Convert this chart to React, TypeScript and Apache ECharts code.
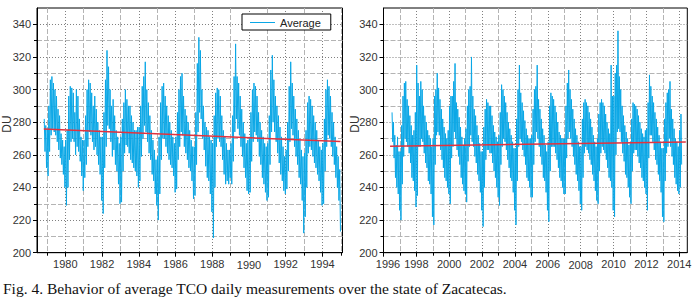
import React, { useEffect, useRef } from "react";
import * as echarts from "echarts";

// ---------- data (monthly high / low of the daily values) ----------
// Left panel: starts November 1978 (month index 10)
const leftStartYear = 1978;
const leftStartMonth = 10;
const leftHigh = [
  282, 278,
  276, 290, 306, 308, 304, 300, 296, 288, 284, 273, 269, 265, // 1979
  269, 275, 296, 302, 301, 298, 286, 300, 296, 282, 271, 269, // 1980
  269, 284, 300, 306, 304, 298, 290, 296, 288, 280, 275, 271, // 1981
  271, 286, 306, 324, 314, 300, 290, 294, 284, 275, 271, 267, // 1982
  271, 282, 292, 300, 294, 290, 290, 284, 280, 275, 275, 277, // 1983
  277, 290, 302, 308, 317, 300, 292, 284, 275, 269, 263, 257, // 1984
  259, 271, 292, 302, 304, 296, 290, 284, 280, 275, 271, 267, // 1985
  271, 286, 300, 308, 310, 296, 288, 284, 280, 275, 269, 265, // 1986
  265, 286, 316, 332, 324, 300, 290, 280, 277, 275, 271, 269, // 1987
  267, 284, 298, 301, 300, 296, 284, 275, 271, 267, 263, 263, // 1988
  267, 284, 308, 328, 308, 304, 296, 288, 280, 273, 267, 269, // 1989
  271, 286, 300, 304, 302, 296, 286, 280, 275, 271, 267, 265, // 1990
  267, 284, 312, 321, 306, 296, 290, 284, 277, 271, 265, 259, // 1991
  263, 280, 302, 317, 304, 296, 288, 282, 275, 269, 263, 259, // 1992
  261, 275, 292, 296, 294, 290, 284, 280, 275, 269, 265, 263, // 1993
  267, 282, 300, 306, 302, 296, 286, 280, 271, 265, 259, 251, // 1994
];
const leftLow = [
  262, 252,
  247, 262, 272, 276, 274, 272, 268, 263, 258, 254, 248, 240, // 1979
  229, 240, 257, 268, 270, 268, 260, 265, 262, 256, 247, 238, // 1980
  246, 254, 265, 274, 272, 268, 263, 265, 260, 254, 248, 232, // 1981
  224, 252, 265, 278, 276, 268, 259, 263, 254, 250, 242, 230, // 1982
  231, 250, 261, 266, 265, 261, 257, 255, 252, 250, 247, 240, // 1983
  244, 259, 270, 278, 274, 268, 261, 257, 248, 244, 236, 229, // 1984
  220, 236, 257, 270, 270, 265, 261, 257, 254, 252, 247, 237, // 1985
  239, 257, 265, 274, 272, 265, 261, 257, 252, 250, 244, 233, // 1986
  235, 254, 274, 286, 282, 270, 263, 253, 246, 244, 236, 225, // 1987
  209, 240, 265, 270, 268, 265, 257, 248, 242, 244, 242, 246, // 1988
  242, 256, 274, 282, 276, 272, 265, 259, 252, 246, 238, 236, // 1989
  237, 256, 268, 274, 272, 268, 259, 254, 246, 242, 237, 232, // 1990
  234, 254, 274, 280, 274, 268, 261, 255, 248, 244, 238, 236, // 1991
  239, 250, 268, 276, 272, 265, 259, 254, 246, 242, 232, 212, // 1992
  222, 240, 261, 265, 263, 259, 255, 252, 248, 244, 237, 229, // 1993
  230, 250, 265, 272, 270, 265, 259, 254, 246, 240, 232, 213, // 1994
];

// Right panel: starts July 1996 (month index 6)
const rightStartYear = 1996;
const rightStartMonth = 6;
const rightHigh = [
  286, 280, 272, 266, 271, 262,
  262, 278, 296, 304, 305, 294, 290, 284, 278, 272, 275, 286, // 1997
  315, 304, 296, 305, 300, 290, 284, 280, 275, 272, 270, 265, // 1998
  270, 296, 300, 310, 301, 294, 288, 282, 277, 273, 270, 275, // 1999
  290, 296, 296, 305, 316, 292, 288, 283, 277, 271, 266, 270, // 2000
  276, 290, 300, 302, 320, 296, 288, 284, 278, 272, 267, 262, // 2001
  262, 277, 288, 294, 292, 290, 290, 284, 278, 274, 271, 268, // 2002
  272, 286, 303, 300, 296, 292, 286, 280, 276, 272, 268, 264, // 2003
  264, 282, 300, 315, 298, 292, 287, 281, 276, 272, 270, 270, // 2004
  272, 288, 300, 302, 315, 294, 288, 282, 276, 272, 266, 262, // 2005
  268, 290, 298, 296, 294, 290, 286, 280, 274, 272, 270, 270, // 2006
  270, 290, 304, 312, 300, 294, 288, 282, 276, 272, 268, 265, // 2007
  265, 282, 292, 294, 292, 290, 286, 282, 277, 272, 268, 265, // 2008
  270, 285, 292, 294, 292, 290, 285, 280, 276, 273, 315, 296, // 2009
  296, 310, 315, 336, 308, 300, 290, 284, 278, 274, 270, 266, // 2010
  267, 282, 292, 291, 290, 288, 284, 280, 276, 273, 271, 275, // 2011
  276, 292, 309, 302, 296, 292, 286, 282, 277, 272, 268, 264, // 2012
  264, 282, 292, 298, 300, 305, 288, 282, 276, 270, 268, 265, // 2013
  275, 285, // 2014
];
const rightLow = [
  268, 258, 246, 240, 236, 226,
  220, 242, 259, 270, 268, 265, 261, 255, 246, 244, 238, 228, // 1997
  235, 265, 265, 270, 268, 261, 255, 252, 244, 242, 236, 222, // 1998
  217, 254, 272, 274, 272, 263, 257, 252, 246, 244, 240, 236, // 1999
  230, 258, 265, 274, 270, 263, 259, 254, 246, 242, 238, 236, // 2000
  231, 256, 265, 272, 268, 265, 259, 255, 248, 244, 237, 226, // 2001
  216, 240, 257, 263, 263, 261, 261, 255, 250, 246, 240, 234, // 2002
  229, 254, 265, 270, 268, 263, 257, 252, 246, 244, 237, 226, // 2003
  217, 244, 265, 270, 268, 263, 259, 254, 246, 244, 240, 234, // 2004
  234, 254, 268, 274, 270, 265, 259, 254, 246, 244, 237, 226, // 2005
  219, 250, 265, 265, 265, 261, 257, 252, 246, 244, 240, 236, // 2006
  236, 258, 270, 274, 270, 265, 259, 254, 248, 244, 238, 230, // 2007
  226, 246, 261, 265, 263, 261, 257, 254, 248, 244, 238, 232, // 2008
  230, 250, 261, 265, 263, 261, 257, 252, 246, 244, 240, 226, // 2009
  222, 260, 274, 276, 274, 268, 261, 256, 248, 246, 240, 234, // 2010
  230, 250, 261, 263, 263, 259, 255, 252, 246, 244, 240, 236, // 2011
  226, 258, 272, 272, 268, 263, 257, 254, 248, 244, 237, 222, // 2012
  219, 244, 261, 265, 270, 265, 259, 254, 246, 242, 238, 236, // 2013
  240, 254, // 2014
];

// Linear trends (red lines): [year, DU]
const leftTrend = [
  [1978.83, 275.8],
  [1994.98, 268.1],
];
const rightTrend = [
  [1996.4, 265.3],
  [2014.4, 267.8],
];

// Tick values
const leftEvenYears = [1980, 1982, 1984, 1986, 1988, 1990, 1992, 1994];
const leftOddYears = [1979, 1981, 1983, 1985, 1987, 1989, 1991, 1993, 1995];
const rightEvenYears = [1996, 1998, 2000, 2002, 2004, 2006, 2008, 2010, 2012, 2014];
const rightOddYears = [1997, 1999, 2001, 2003, 2005, 2007, 2009, 2011, 2013];
const duMajor = [200, 220, 240, 260, 280, 300, 320, 340];
const duMinor = [210, 230, 250, 270, 290, 310, 330];

const yAxisTitle = "DU";
const seriesName = "Average";
const caption =
  "Fig. 4. Behavior of average TCO daily measurements over the state of Zacatecas.";

// ---------- helpers ----------
function buildSeries(startYear: number, startMonth: number, hi: number[], lo: number[]) {
  const pts: number[][] = [];
  for (let i = 0; i < hi.length; i++) {
    const m = startMonth + i;
    const y = startYear + Math.floor(m / 12);
    const mm = m % 12;
    pts.push([y + (mm + 0.25) / 12, hi[i]]);
    pts.push([y + (mm + 0.75) / 12, lo[i]]);
  }
  return pts;
}

const FONT = "'Liberation Sans', Arial, sans-serif";
const LABEL_COLOR = "#333";
const MAJOR_GRID = { color: "#808080", type: [1, 2] as number[], width: 1 };
const MINOR_GRID = { color: "#b4b4b4", type: [5, 2] as number[], width: 1 };

function xAxesFor(gridIndex: number, min: number, max: number, even: number[], odd: number[], special: Record<number, string>) {
  return [
    {
      type: "value",
      gridIndex,
      min,
      max,
      position: "bottom",
      axisLine: { show: true, onZero: false, lineStyle: { color: "#000", width: 1 } },
      axisTick: { show: true, customValues: even, length: 4, lineStyle: { color: "#000" } },
      axisLabel: {
        customValues: even,
        margin: 6,
        fontSize: 11,
        color: LABEL_COLOR,
        fontFamily: FONT,
        formatter: (v: number) => (special[v] ? `{${special[v]}|${v}}` : String(v)),
        rich: {
          low: { fontSize: 11, color: LABEL_COLOR, fontFamily: FONT, padding: [1, 0, 0, 0] },
          shift: { fontSize: 11, color: LABEL_COLOR, fontFamily: FONT, padding: [0, 0, 0, 9] },
        },
      },
      splitLine: { show: true, lineStyle: MAJOR_GRID },
    },
    {
      type: "value",
      gridIndex,
      min,
      max,
      position: "bottom",
      axisLine: { show: false, onZero: false },
      axisTick: { show: true, customValues: odd, length: 3, lineStyle: { color: "#000" } },
      axisLabel: { show: false },
      splitLine: { show: true, lineStyle: MINOR_GRID },
    },
  ];
}

function yAxesFor(gridIndex: number) {
  return [
    {
      type: "value",
      gridIndex,
      min: 200,
      max: 350,
      position: "left",
      axisLine: { show: true, onZero: false, lineStyle: { color: "#000", width: 1 } },
      axisTick: { show: true, customValues: duMajor, length: 4, lineStyle: { color: "#000" } },
      axisLabel: { customValues: duMajor, margin: 6, fontSize: 11, color: LABEL_COLOR, fontFamily: FONT },
      splitLine: { show: true, lineStyle: MAJOR_GRID },
    },
    {
      type: "value",
      gridIndex,
      min: 200,
      max: 350,
      position: "left",
      axisLine: { show: false, onZero: false },
      axisTick: { show: true, customValues: duMinor, length: 3, lineStyle: { color: "#000" } },
      axisLabel: { show: false },
      splitLine: { show: true, lineStyle: MINOR_GRID },
    },
  ];
}

export default function App() {
  const ref = useRef<HTMLDivElement>(null);

  useEffect(() => {
    if (!ref.current) return;
    const chart = echarts.init(ref.current, undefined, { renderer: "svg" });

    const lineColor = "#0aa7e6";
    const trendColor = "#e2323e";

    const option: any = {
      animation: false,
      backgroundColor: "#fff",
      textStyle: { fontFamily: FONT },
      grid: [
        { left: 37, top: 8, width: 305.5, height: 244.7, show: true, borderColor: "#000", borderWidth: 1, backgroundColor: "transparent", outerBoundsMode: "none" },
        { left: 383.5, top: 8, width: 303.8, height: 244.7, show: true, borderColor: "#000", borderWidth: 1, backgroundColor: "transparent", outerBoundsMode: "none" },
      ],
      xAxis: [
        ...xAxesFor(0, 1978.46, 1995.09, leftEvenYears, leftOddYears, { 1990: "low" }),
        ...xAxesFor(1, 1996.0, 2014.49, rightEvenYears, rightOddYears, { 1996: "shift", 2008: "low" }),
      ],
      yAxis: [...yAxesFor(0), ...yAxesFor(1)],
      legend: {
        data: [seriesName],
        left: 242,
        top: 14,
        padding: [3, 10, 2, 8],
        icon: "rect",
        itemWidth: 25,
        itemHeight: 1,
        borderColor: "#000",
        borderWidth: 1,
        borderRadius: 0,
        backgroundColor: "#fff",
        selectedMode: false,
        textStyle: { fontSize: 11, color: "#222", fontFamily: FONT },
      },
      series: [
        {
          name: seriesName,
          type: "line",
          xAxisIndex: 0,
          yAxisIndex: 0,
          data: buildSeries(leftStartYear, leftStartMonth, leftHigh, leftLow),
          symbol: "none",
          lineStyle: { color: lineColor, width: 1 },
          itemStyle: { color: lineColor },
          z: 3,
        },
        {
          name: seriesName,
          type: "line",
          xAxisIndex: 2,
          yAxisIndex: 2,
          data: buildSeries(rightStartYear, rightStartMonth, rightHigh, rightLow),
          symbol: "none",
          lineStyle: { color: lineColor, width: 1 },
          itemStyle: { color: lineColor },
          z: 3,
        },
        {
          name: "Trend",
          type: "line",
          xAxisIndex: 0,
          yAxisIndex: 0,
          data: leftTrend,
          symbol: "none",
          lineStyle: { color: trendColor, width: 1.5 },
          z: 4,
        },
        {
          name: "Trend",
          type: "line",
          xAxisIndex: 2,
          yAxisIndex: 2,
          data: rightTrend,
          symbol: "none",
          lineStyle: { color: trendColor, width: 1.5 },
          z: 4,
        },
      ],
      graphic: [
        {
          type: "text",
          x: 7,
          y: 124,
          rotation: Math.PI / 2,
          style: { text: yAxisTitle, font: `12px ${FONT}`, fill: LABEL_COLOR, align: "center", verticalAlign: "middle" },
        },
        {
          type: "text",
          x: 355,
          y: 124,
          rotation: Math.PI / 2,
          style: { text: yAxisTitle, font: `12px ${FONT}`, fill: LABEL_COLOR, align: "center", verticalAlign: "middle" },
        },
        {
          type: "text",
          left: 3,
          top: 280,
          style: {
            text: caption,
            font: "15.5px 'Liberation Serif', 'Times New Roman', serif",
            fill: "#111",
          },
        },
      ],
    };

    chart.setOption(option);
    return () => chart.dispose();
  }, []);

  return (
    <div
      ref={ref}
      style={{ position: "absolute", left: 0, top: 0, width: 695, height: 301, background: "#fff" }}
    />
  );
}
